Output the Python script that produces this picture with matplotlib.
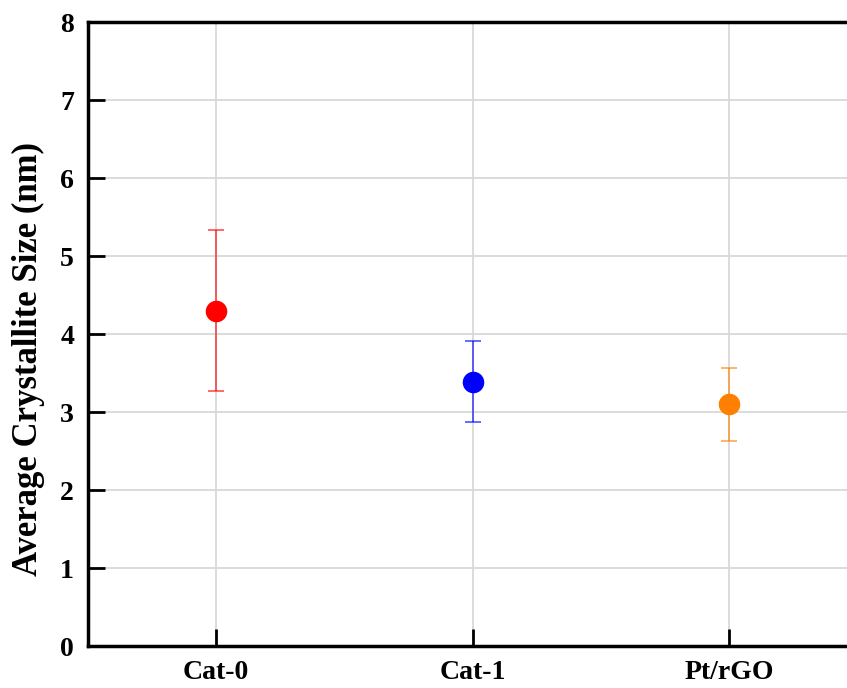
import numpy as np
import matplotlib
matplotlib.use('Agg')
import matplotlib.pyplot as plt

# Data
samples = ['Cat-0', 'Cat-1', 'Pt/rGO']
size_nm = [4.30, 3.39, 3.10]
size_err = [1.03, 0.52, 0.47]
colors = ['#ff0000', '#0000ff', '#ff8000']

plt.rcParams['font.family'] = ['Liberation Serif', 'DejaVu Serif']
plt.rcParams['font.weight'] = 'bold'

fig = plt.figure(figsize=(8.47, 6.88), dpi=100)
# axes run a little past the right edge of the picture, as in the reference
ax = fig.add_axes([88 / 847, 42 / 688, 769 / 847, 624 / 688])

x = np.arange(len(samples))
for xi, yi, ei, c in zip(x, size_nm, size_err, colors):
    ax.errorbar(xi, yi, yerr=ei, fmt='none', ecolor=c, elinewidth=1.1,
                capsize=6, capthick=1.1, alpha=0.75, zorder=3)
    ax.plot(xi, yi, 'o', color=c, markersize=14.5, zorder=4)

ax.set_xlim(-0.5, 2.5)
ax.set_ylim(0, 8)
ax.set_xticks(x)
ax.set_xticklabels(samples)
ax.set_yticks(range(0, 9))
ax.grid(True, color='#d9d9d9', linewidth=1.3)
ax.set_axisbelow(True)

ax.set_ylabel('Average Crystallite Size (nm)', fontsize=25, fontweight='bold')
ax.yaxis.set_label_coords(-0.056, 0.46)
ax.tick_params(axis='both', direction='in', length=12, width=2, labelsize=20)
ax.tick_params(axis='x', pad=10)
ax.tick_params(axis='y', pad=10)
for lab in ax.get_xticklabels() + ax.get_yticklabels():
    lab.set_fontweight('bold')

for side in ['left', 'bottom', 'top']:
    ax.spines[side].set_linewidth(2.5)
ax.spines['right'].set_visible(False)

fig.savefig('out.png', dpi=100)
